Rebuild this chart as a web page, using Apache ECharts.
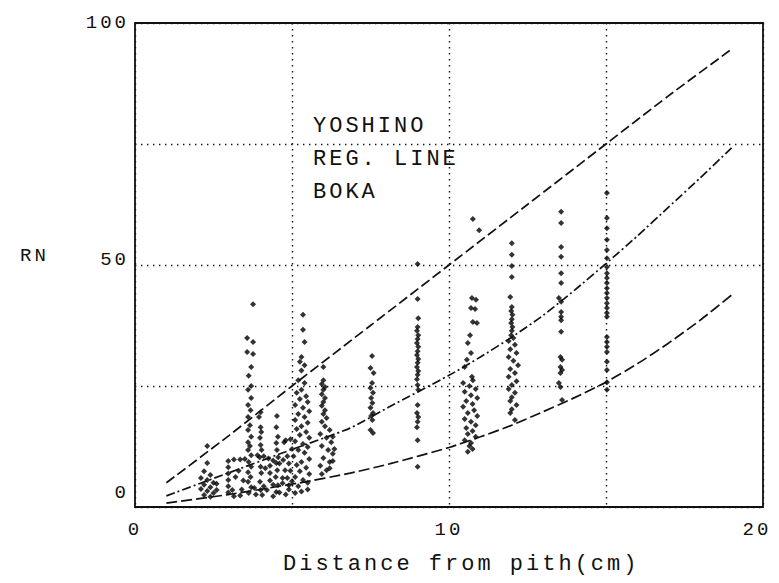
<!DOCTYPE html>
<html><head><meta charset="utf-8">
<script src="https://cdn.jsdelivr.net/npm/echarts@6/dist/echarts.min.js"></script>
<style>
html,body{margin:0;padding:0;background:#fff;}
#chart{width:779px;height:583px;}
#chart text{letter-spacing:3px;}
</style></head><body><div id="chart"></div>
<script>
// ---- Data ----
const xLabelValues = [0, 10, 20];
const yLabelValues = [0, 50, 100];
const xTitle = 'Distance from pith(cm)';
const yTitle = 'RN';
const noteLines = ['YOSHINO', 'REG. LINE', 'BOKA'];

// regression / boundary lines
const upperX = [1, 3, 5, 7.5, 10, 12.5, 15, 17, 19];
const upperY = [5.0, 14.8, 25, 37.5, 50, 62.5, 75, 85, 94.6];
const middleX = [1, 3, 5, 6.85, 8.1, 10, 11, 12, 13, 14, 15, 16, 17, 18, 19];
const middleY = [2.3, 7.1, 11.9, 16.3, 20.7, 27.2, 31.0, 35.1, 39.6, 44.8, 50.3, 56.0, 62.0, 68.0, 74.2];
const lowerX = [1, 3, 5.25, 6.85, 8.1, 10, 11, 12, 13, 14, 15, 16, 17, 18, 19];
const lowerY = [0.8, 2.6, 5.0, 7.0, 8.9, 12.3, 14.5, 16.9, 19.7, 22.6, 25.8, 29.6, 33.9, 38.6, 43.8];

// measured points, column by column
const colA = [[2.3,12.6],[2.3,9.1],[2.2,7.4],[2.4,6.6],[2.1,6.0],[2.3,5.6],[2.5,5.0],[2.2,4.6],[2.4,4.1],[2.1,3.7],[2.3,3.3],[2.5,2.9],[2.2,2.5],[2.4,2.1],[2.6,3.5],[2.6,4.8]];
const colB = [[3.76,41.9],[3.57,34.9],[3.76,34.1],[3.57,32.0],[3.76,31.6],[3.7,28.9],[3.62,27.1],[3.7,25.0],[3.6,24.2],[3.7,22.5],[3.6,21.1],[3.68,20.0],[3.6,18.6],[3.66,16.9],[3.6,15.9],[3.7,14.5],[3.6,13.4],[3.66,12.6],[3.6,11.8],[3.7,10.7],[3.62,9.3],[3.7,8.3],[3.6,7.2],[3.68,6.2],[3.6,5.2],[3.7,4.1],[3.62,2.9]];
const colC = [[4.0,19.6],[3.95,18.6],[4.0,16.5],[4.02,15.5],[3.98,14.3],[4.0,12.8],[4.03,11.8],[3.97,10.3],[4.0,8.3],[4.02,7.0],[3.98,5.2],[4.0,3.5]];
const colD = [[4.52,18.8],[4.5,16.5],[4.55,14.5],[4.5,13.2],[4.52,11.8],[4.56,10.3],[4.5,9.1],[4.53,7.6],[4.48,6.2],[4.55,4.5],[4.5,3.1],[4.75,13.4],[4.72,9.7],[4.78,7.6],[4.7,6.0]];
const colE = [[5.35,39.7],[5.35,36.6],[5.4,34.1],[5.3,31.0],[5.25,30.0],[5.4,29.3],[5.3,28.2],[5.2,26.2],[5.4,25.6],[5.3,24.2],
  [5.15,23.6],[5.45,22.9],[5.25,22.3],[5.5,21.7],[5.1,21.1],[5.35,20.5],[5.55,19.8],[5.2,19.2],[5.4,18.6],[5.1,18.0],[5.5,17.4],[5.3,16.7],[5.15,16.1],[5.45,15.5],[5.25,14.9],[5.55,14.3],[5.1,13.6],[5.35,13.0],[5.5,12.4],[5.2,11.8],[5.4,11.2],[5.05,10.5],[5.55,9.9],[5.3,9.3],[5.15,8.7],[5.45,8.1],[5.25,7.4],[5.55,6.8],[5.1,6.2],[5.35,5.6],[5.5,5.0],[5.2,4.3],
  [4.85,10.5],[4.9,9.0],[4.95,7.5],[4.85,6.0],[4.9,4.5],[5.0,12.0]];
const colF = [[6.0,28.9],[6.0,26.2],[5.95,25.4],[6.05,24.8],[6.0,24.2],[5.95,23.3],[6.05,22.5],[6.0,21.7],[5.95,20.9],[6.05,20.0],[6.0,19.2],[6.1,18.4],[5.95,17.6],[6.05,16.7],[6.2,15.9],[5.9,15.1],[6.1,14.3],[6.25,13.4],[5.95,12.6],[6.15,11.8],[6.3,11.0],[6.0,10.1],[6.2,9.3],[5.9,8.5],[6.1,7.6],[5.95,6.8]];
const colG = [[7.55,31.2],[7.5,28.7],[7.6,27.7],[7.55,25.6],[7.5,24.6],[7.58,23.6],[7.52,22.5],[7.56,21.5],[7.5,20.5],[7.58,19.4],[7.52,18.8],[7.56,18.0],[7.5,15.9],[7.58,15.3]];
const colH = [[9.0,50.2],[9.0,43.0],[9.02,39.0],[9.0,37.2],[8.98,36.4],[9.02,35.5],[9.0,34.7],[8.98,33.9],[9.02,33.1],[9.0,32.2],[8.98,31.4],[9.02,30.6],[9.0,29.8],[8.98,28.9],[9.02,28.1],[9.0,27.3],[8.98,26.4],[9.0,25.2],[9.02,24.2],[9.0,21.1],[8.98,19.4],[9.02,18.6],[9.0,17.6],[8.98,16.5],[9.0,13.8],[9.0,8.3]];
const colI = [[10.76,59.5],[10.96,57.2],[10.73,43.2],[10.86,42.8],[10.7,41.1],[10.83,40.9],[10.76,38.2],[10.89,38.0],[10.67,35.5],[10.6,33.9],[10.7,31.8],[10.57,30.4],[10.5,28.9],[10.73,26.9],[10.76,26.2],
  [10.45,25.6],[10.65,25.0],[10.85,24.4],[10.5,23.8],[10.7,23.1],[10.9,22.5],[10.55,21.9],[10.75,21.3],[10.45,20.7],[10.8,20.0],[10.6,19.4],[10.9,18.8],[10.5,18.2],[10.7,17.6],[10.85,16.9],[10.55,16.3],[10.75,15.7],[10.6,15.1],[10.85,14.5],[10.5,13.8],[10.7,13.2],[10.65,12.6],[10.75,12.0],[10.6,11.4]];
const colJ = [[12.0,54.5],[12.0,52.1],[12.0,49.8],[12.0,47.5],[11.95,43.4],[12.0,41.3],[11.98,40.5],[12.02,39.7],[12.0,38.8],[11.98,38.0],[12.02,37.2],[12.0,36.4],[11.98,35.5],[12.05,34.9],
  [11.9,34.3],[12.1,33.5],[11.95,32.6],[12.15,31.8],[11.9,31.0],[12.05,30.2],[12.2,29.3],[11.95,28.5],[12.1,27.7],[11.9,26.9],[12.15,26.0],[12.0,25.2],[11.9,24.4],[12.1,23.6],[12.0,22.7],[11.95,21.9],[12.15,21.1],[12.0,20.2],[11.95,19.4],[12.1,18.0]];
const colK = [[13.57,61.0],[13.57,58.7],[13.57,53.7],[13.57,51.7],[13.57,48.3],[13.57,46.3],[13.5,43.2],[13.57,42.4],[13.57,40.3],[13.57,39.3],[13.57,38.6],[13.57,36.2],[13.55,31.0],[13.6,30.4],[13.55,28.9],[13.6,28.3],[13.55,27.7],[13.5,25.6],[13.55,24.8],[13.6,22.1]];
const colLx = 15.03;
const colLy = [64.9,59.7,57.6,55.2,53.1,51.4,49.6,48.3,47.3,46.3,45.2,44.2,43.2,42.1,41.1,40.1,39.3,35.1,34.1,33.1,32.0,30.0,28.3,25.8,24.2];
const blobPts = [[2.97,9.5],[2.97,8.2],[2.97,6.9],[2.97,5.6],[2.97,4.3],[2.97,3.0],[3.15,9.8],[3.35,9.8],[3.5,9.9],[3.15,2.2],[3.35,2.4],
  [3.9,10.7],[4.1,10.5],[4.25,10.0],[4.3,8.5],[4.3,7.0],[4.3,5.5],[4.2,3.5],[4.05,2.5],[3.85,2.6],
  [4.8,13.8],[4.95,14.0],[6.3,14.5],[6.35,12.0],[6.3,9.5],[6.2,8.0],[5.3,3.2],[5.5,3.6],[5.1,2.9],[4.6,3.0],[4.8,2.6],[4.4,2.2],
  [3.1,3.5],[3.4,3.6],[3.8,3.9],[4.1,4.3],[4.4,4.6],[4.7,4.9],[5.0,5.3],[4.4,9.6],[4.6,9.0],[4.15,8.0],[3.3,7.5],[3.45,5.5],[3.2,6.2],[4.9,3.6]];

// ---- Build ----
const zip = (xs, ys) => xs.map((x, i) => [x, ys[i]]);
const colL = colLy.map(y => [colLx, y]);
const points = [].concat(colA, colB, colC, colD, colE, colF, colG, colH, colI, colJ, colK, colL, blobPts);

const FONT = "'Liberation Mono', 'DejaVu Sans Mono', monospace";
const INK = '#111';

const chart = echarts.init(document.getElementById('chart'), null, {renderer: 'svg'});
chart.setOption({
  animation: false,
  backgroundColor: '#fff',
  grid: {left: 135, right: 16, top: 23, bottom: 76, show: true, borderColor: INK, borderWidth: 1.8, backgroundColor: 'transparent'},
  xAxis: {
    type: 'value', min: 0, max: 20, interval: 5,
    axisLine: {show: false}, axisTick: {show: false},
    axisLabel: {
      margin: 13, color: INK, fontFamily: FONT, fontSize: 19,
      formatter: v => xLabelValues.includes(v) ? (v === 20 ? '{r|' + v + '}' : String(v)) : '',
      rich: {r: {fontFamily: FONT, fontSize: 19, color: INK, padding: [0, 12, 0, 0]}}
    },
    splitLine: {show: true, lineStyle: {color: INK, width: 1.4, type: [1.4, 4.6]}}
  },
  yAxis: {
    type: 'value', min: 0, max: 100, interval: 25,
    axisLine: {show: false}, axisTick: {show: false},
    axisLabel: {
      margin: 6, color: INK, fontFamily: FONT, fontSize: 19,
      formatter: v => yLabelValues.includes(v) ? (v === 0 ? '{z|0}' : v === 50 ? '{f|50}' : String(v)) : '',
      rich: {
        z: {fontFamily: FONT, fontSize: 19, color: INK, padding: [0, 0, 28, 0]},
        f: {fontFamily: FONT, fontSize: 19, color: INK, padding: [0, 0, 10, 0]}
      }
    },
    splitLine: {show: true, lineStyle: {color: INK, width: 1.4, type: [1.4, 4.6]}}
  },
  graphic: [
    {type: 'text', left: 20, top: 246, style: {text: yTitle, font: '19px ' + FONT, fill: INK}},
    {type: 'text', left: 283, top: 553, style: {text: xTitle, font: '22px ' + FONT, fill: INK}},
    {type: 'text', left: 313, top: 115, style: {text: noteLines[0], font: '22px ' + FONT, fill: INK}},
    {type: 'text', left: 313, top: 148, style: {text: noteLines[1], font: '22px ' + FONT, fill: INK}},
    {type: 'text', left: 313, top: 181, style: {text: noteLines[2], font: '22px ' + FONT, fill: INK}}
  ],
  series: [
    {type: 'line', data: zip(upperX, upperY), smooth: 0.2, showSymbol: false, symbol: 'none',
     lineStyle: {color: INK, width: 1.7, type: [10, 4]}},
    {type: 'line', data: zip(middleX, middleY), smooth: 0.2, showSymbol: false, symbol: 'none',
     lineStyle: {color: INK, width: 1.7, type: [9, 3, 2, 3]}},
    {type: 'line', data: zip(lowerX, lowerY), smooth: 0.2, showSymbol: false, symbol: 'none',
     lineStyle: {color: INK, width: 1.7, type: [11, 4]}},
    {type: 'scatter', data: points, symbol: 'diamond', symbolSize: 6,
     itemStyle: {color: '#000'}}
  ]
});
</script></body></html>
